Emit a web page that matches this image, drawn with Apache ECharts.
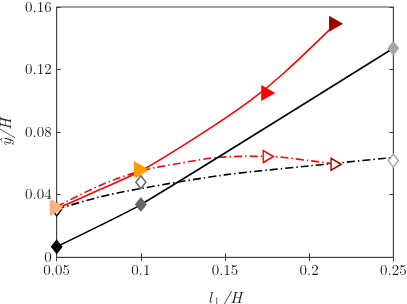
<!DOCTYPE html>
<html><head><meta charset="utf-8">
<script src="https://cdn.jsdelivr.net/npm/echarts@6/dist/echarts.min.js"></script>
<style>html,body{margin:0;padding:0;background:#fff}#c{width:407px;height:304px}</style>
</head><body><div id="c"></div>
<script>
// x tick labels / y tick labels
var xTickLabels = ['0.05', '0.1', '0.15', '0.2', '0.25'];
var yTickLabels = ['0', '0.04', '0.08', '0.12', '0.16'];

// Filled diamonds (solid black curve)
var diamX = [0.05, 0.1, 0.25];
var diamY = [0.0068, 0.0337, 0.1336];
// Open diamonds (dash-dot black curve)
var openDiamY = [0.0307, 0.048, 0.0618];
// Filled triangles
var triX = [0.05, 0.1, 0.1757, 0.216];
var triY = [0.0314, 0.0565, 0.105, 0.1493];
// Open triangles
var openTriY = [0.0324, 0.0552, 0.0644, 0.0595];
// Curves
var blackFitX = [0.05, 0.075, 0.1, 0.15, 0.2, 0.25];
var blackFitY = [0.0307, 0.0384, 0.044, 0.0527, 0.0584, 0.0638];
var redFitX = [0.05, 0.075, 0.1, 0.123, 0.147, 0.175, 0.2, 0.216];
var redFitY = [0.0324, 0.0456, 0.0552, 0.0601, 0.064, 0.0646, 0.0618, 0.0595];
var redSolidX = [0.05, 0.075, 0.1, 0.135, 0.165, 0.185, 0.216];
var redSolidY = [0.031, 0.043, 0.0553, 0.0783, 0.1002, 0.1178, 0.1495];

var grayColors = ['#000000', '#666666', '#a6a6a6'];
var redColors = ['#f8b27c', '#ff9a00', '#ff0000', '#a00000'];

function zip(xs, ys) { return xs.map(function (x, i) { return [x, ys[i]]; }); }
function colored(xs, ys, cols, open) {
  return xs.map(function (x, i) {
    return { value: [x, ys[i]], itemStyle: open ? { color: '#ffffff', borderColor: cols[i], borderWidth: 1.5, opacity: 1 } : { color: cols[i], opacity: 1 } };
  });
}

var font = '"Latin Modern Roman", "CMU Serif", "Liberation Serif", serif';
var axisCol = '#444444';
var chart = echarts.init(document.getElementById('c'), null, { renderer: 'canvas' });
var dash = [8, 3, 1.5, 3];

chart.setOption({
  animation: false,
  grid: { left: 56.7, right: 13.7, top: 7, bottom: 46.7, show: true, borderColor: axisCol, borderWidth: 1,
    containLabel: false, outerBoundsMode: 'none' },
  xAxis: [{
    type: 'value', min: 0.05, max: 0.25, interval: 0.05,
    axisLine: { show: true, lineStyle: { color: axisCol } },
    axisTick: { show: true, inside: true, length: 4, lineStyle: { color: axisCol } },
    splitLine: { show: false },
    axisLabel: { fontFamily: font, fontSize: 15, color: '#222', margin: 6,
      formatter: function (v) { return xTickLabels[Math.round((v - 0.05) / 0.05)]; } },
    name: '{i|l}{s|⊥}{i|/H}', nameLocation: 'middle', nameGap: 31,
    nameTextStyle: { rich: {
      i: { fontFamily: font, fontStyle: 'italic', fontSize: 16, color: '#222' },
      s: { fontFamily: font, fontSize: 11, color: '#222', padding: [8, 0, 0, 0] } } }
  }, {
    type: 'value', min: 0.05, max: 0.25, interval: 0.05, position: 'top',
    axisLine: { show: true, lineStyle: { color: axisCol } },
    axisTick: { show: true, inside: true, length: 4, lineStyle: { color: axisCol } },
    axisLabel: { show: false }, splitLine: { show: false }
  }],
  yAxis: [{
    type: 'value', min: 0, max: 0.16, interval: 0.04,
    axisLine: { show: true, lineStyle: { color: axisCol } },
    axisTick: { show: true, inside: true, length: 4, lineStyle: { color: axisCol } },
    splitLine: { show: false },
    axisLabel: { fontFamily: font, fontSize: 15, color: '#222', margin: 5,
      formatter: function (v) { return yTickLabels[Math.round(v / 0.04)]; } },
    name: 'ŷ/H', nameLocation: 'middle', nameGap: 40, nameRotate: 90,
    nameTextStyle: { fontFamily: font, fontStyle: 'italic', fontSize: 16, color: '#222' }
  }, {
    type: 'value', min: 0, max: 0.16, interval: 0.04, position: 'right',
    axisLine: { show: true, lineStyle: { color: axisCol } },
    axisTick: { show: true, inside: true, length: 4, lineStyle: { color: axisCol } },
    axisLabel: { show: false }, splitLine: { show: false }
  }],
  series: [
    { type: 'line', data: zip(blackFitX, blackFitY), smooth: 0.3, showSymbol: false, z: 2,
      lineStyle: { color: '#000', width: 1.6, type: dash } },
    { type: 'line', data: zip(redFitX, redFitY), smooth: 0.3, showSymbol: false, z: 2,
      lineStyle: { color: '#ff0000', width: 1.6, type: dash } },
    { type: 'line', data: zip(diamX, diamY), smooth: 0.15, showSymbol: false, z: 2,
      lineStyle: { color: '#000', width: 1.6 } },
    { type: 'line', data: zip(redSolidX, redSolidY), smooth: 0.3, showSymbol: false, z: 2,
      lineStyle: { color: '#ff0000', width: 1.6 } },
    { type: 'scatter', data: colored(diamX, openDiamY, grayColors, true), symbol: 'diamond', symbolSize: [10, 13], z: 3 },
    { type: 'scatter', data: colored(triX, openTriY, redColors, true), symbol: 'triangle', symbolRotate: -90, symbolSize: [12, 10], z: 3 },
    { type: 'scatter', data: colored(diamX, diamY, grayColors, false), symbol: 'diamond', symbolSize: [12, 15], z: 4 },
    { type: 'scatter', data: colored(triX, triY, redColors, false), symbol: 'triangle', symbolRotate: -90, symbolSize: [16, 14], z: 4 }
  ]
});
</script></body></html>
